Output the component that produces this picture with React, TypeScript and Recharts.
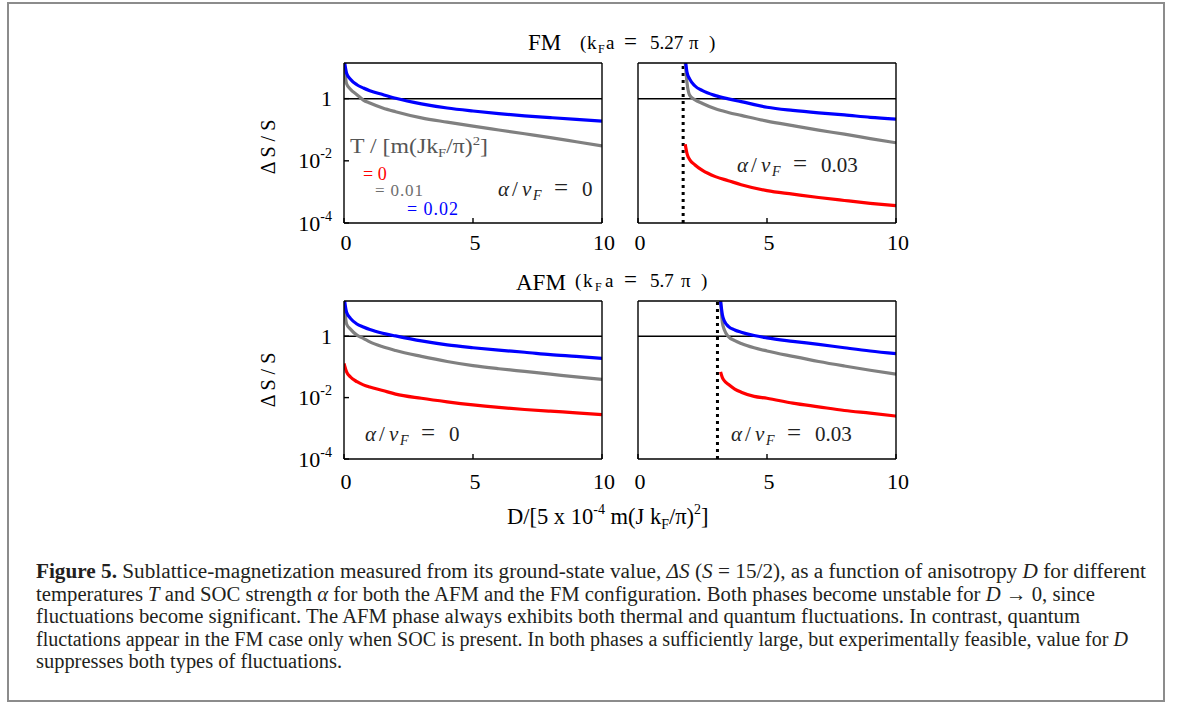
import { LineChart, Line, XAxis, YAxis, ReferenceLine } from "recharts";

// D grids (units of 5e-4 m(J kF/pi)^2) and Delta S / S
const dNoSoc = [0, 0.1, 0.25, 0.5, 0.75, 1, 1.5, 2, 3, 4, 5, 6, 7, 8, 9, 10];
const fmBlueNoSoc = [20, 6.6, 4.2, 2.8, 2.2, 1.8, 1.35, 1.03, 0.68, 0.5, 0.4, 0.33, 0.28, 0.245, 0.215, 0.19];
const fmGrayNoSoc = [15, 3.0, 2.0, 1.34, 0.9, 0.72, 0.5, 0.38, 0.24, 0.175, 0.13, 0.098, 0.074, 0.056, 0.041, 0.03];

const dFmSoc = [1.83, 1.9, 2, 2.2, 2.5, 3, 3.5, 4, 5, 6, 7, 8, 9, 10];
const fmBlueSoc = [20, 7, 4.3, 2.6, 1.8, 1.25, 0.98, 0.8, 0.53, 0.42, 0.35, 0.3, 0.25, 0.22];
const fmGraySoc = [15, 3.2, 1.3, 0.93, 0.7, 0.47, 0.36, 0.29, 0.19, 0.135, 0.097, 0.072, 0.052, 0.038];
const fmRedSoc = [0.034, 0.017, 0.011, 0.0075, 0.0049, 0.0031, 0.0023, 0.0017, 0.0011, 0.00085, 0.00066, 0.00053, 0.00043, 0.00036];

const afmBlueNoSoc = [20, 6, 3.8, 2.5, 2.0, 1.65, 1.25, 1.02, 0.7, 0.52, 0.42, 0.35, 0.3, 0.25, 0.22, 0.19];
const afmGrayNoSoc = [15, 2.5, 1.7, 1.08, 0.85, 0.65, 0.45, 0.34, 0.22, 0.15, 0.11, 0.087, 0.071, 0.058, 0.047, 0.039];
const afmRedNoSoc = [0.13, 0.069, 0.047, 0.033, 0.026, 0.022, 0.017, 0.013, 0.0095, 0.0073, 0.0058, 0.0048, 0.0041, 0.0036, 0.0032, 0.0028];

const dAfmSoc = [3.2, 3.27, 3.35, 3.5, 3.75, 4, 4.5, 5, 6, 7, 8, 9, 10];
const afmBlueSoc = [14, 5, 3.1, 2.1, 1.6, 1.35, 1.05, 0.88, 0.68, 0.54, 0.42, 0.33, 0.27];
const afmGraySoc = [14, 2.8, 1.6, 0.98, 0.72, 0.58, 0.42, 0.33, 0.22, 0.15, 0.107, 0.078, 0.058];
const afmRedSoc = [0.069, 0.045, 0.035, 0.027, 0.019, 0.015, 0.011, 0.0095, 0.0066, 0.005, 0.0038, 0.0031, 0.0025];

const criticalD = { fm: 1.75, afm: 3.08 };
const xTicks = [0, 5, 10];
const yTicks = [1e-4, 1e-2, 1];
const tempLabels = ["= 0", "= 0.01", "= 0.02"];
const socLabels = ["0", "0.03"];

const SERIF = "'Liberation Serif', 'Times New Roman', serif";
const BLUE = "#0000ff";
const GRAY = "#808080";
const RED = "#ff0000";

const toRows = (d: number[], blue: number[], gray: number[], red?: number[]) =>
  d.map((D, i) => ({ D, blue: blue[i], gray: gray[i], red: red ? red[i] : undefined }));

const PLOT_W = 258;
// margins + axis sizes around the plot box
const ML = 10, YW = 50, MT = 9, MR = 19, XH = 40, MB = 5;
const OFF_L = ML + YW;
const OFF_T = MT + 1;

const XTick = (p: any) => (
  <text x={p.x + 2} y={p.y} textAnchor="middle" fontFamily={SERIF} fontSize={22} fill="#000">
    {p.payload.value}
  </text>
);

const YTick = (p: any) => {
  const exp = Math.round(Math.log10(p.payload.value));
  return (
    <text x={p.x} y={p.y + 7.5} textAnchor="end" fontFamily={SERIF} fontSize={22} fill="#000">
      {exp === 0 ? "1" : (
        <>
          10<tspan fontSize={14} dy={-10}>{exp}</tspan>
        </>
      )}
    </text>
  );
};

type PanelProps = {
  rows: any[];
  left: number;
  top: number;
  height: number;
  showY: boolean;
  vline?: number;
  labelGap: number;
  hasRed: boolean;
};

const Panel = ({ rows, left, top, height, showY, vline, labelGap, hasRed }: PanelProps) => {
  const axisStyle = { stroke: "#000", strokeWidth: 1.4 };
  return (
    <div style={{ position: "absolute", left: left - OFF_L, top: top - OFF_T }}>
      <LineChart
        width={PLOT_W + OFF_L + MR + 1}
        height={height + OFF_T + XH + MB}
        data={rows}
        margin={{ top: MT, right: MR, bottom: MB, left: ML }}
      >
        <XAxis
          dataKey="D"
          type="number"
          domain={[0, 10]}
          ticks={xTicks}
          allowDataOverflow
          height={XH}
          axisLine={axisStyle}
          tickLine={axisStyle}
          tickSize={-5}
          tickMargin={5 + labelGap}
          tick={<XTick />}
        />
        <XAxis
          xAxisId="top"
          orientation="top"
          type="number"
          domain={[0, 10]}
          ticks={xTicks}
          allowDataOverflow
          height={1}
          axisLine={axisStyle}
          tickLine={axisStyle}
          tickSize={-5}
          tick={false}
        />
        <YAxis
          scale="log"
          type="number"
          domain={[1e-4, 14]}
          ticks={yTicks}
          allowDataOverflow
          width={YW}
          axisLine={axisStyle}
          tickLine={axisStyle}
          tickSize={-5}
          tickMargin={17}
          tick={showY ? <YTick /> : false}
        />
        <YAxis
          yAxisId="right"
          orientation="right"
          scale="log"
          type="number"
          domain={[1e-4, 14]}
          ticks={yTicks}
          allowDataOverflow
          width={1}
          axisLine={axisStyle}
          tickLine={axisStyle}
          tickSize={-5}
          tick={false}
        />
        <ReferenceLine y={1} stroke="#000" strokeWidth={1.5} />
        {vline !== undefined && (
          <ReferenceLine x={vline} stroke="#000" strokeWidth={3} strokeDasharray="3 4" />
        )}
        <Line type="monotone" dataKey="gray" stroke={GRAY} strokeWidth={3.2} dot={false} isAnimationActive={false} />
        <Line type="monotone" dataKey="blue" stroke={BLUE} strokeWidth={3.2} dot={false} isAnimationActive={false} />
        {hasRed && (
          <Line type="monotone" dataKey="red" stroke={RED} strokeWidth={3.2} dot={false} isAnimationActive={false} />
        )}
      </LineChart>
    </div>
  );
};

const AlphaLabel = ({ x, y, value }: { x: number; y: number; value: string }) => (
  <text y={y} fontFamily={SERIF} fontSize={21} fill="#222">
    <tspan x={x} fontStyle="italic">α</tspan>
    <tspan x={x + 14}>/</tspan>
    <tspan x={x + 24} fontStyle="italic">v</tspan>
    <tspan x={x + 35} dy={4} fontStyle="italic" fontSize={14}>F</tspan>
    <tspan x={x + 56} dy={-4} fontSize={25}>=</tspan>
    <tspan x={x + 84}>{value}</tspan>
  </text>
);

const captionLines: { t: string; s?: "b" | "i" }[][] = [
  [
    { t: "Figure 5.", s: "b" },
    { t: " Sublattice-magnetization measured from its ground-state value, " },
    { t: "ΔS", s: "i" },
    { t: " (" },
    { t: "S", s: "i" },
    { t: " = 15/2), as a function of anisotropy " },
    { t: "D", s: "i" },
    { t: " for different" },
  ],
  [
    { t: "temperatures " },
    { t: "T", s: "i" },
    { t: " and SOC strength " },
    { t: "α", s: "i" },
    { t: " for both the AFM and the FM configuration. Both phases become unstable for " },
    { t: "D", s: "i" },
    { t: " → 0, since" },
  ],
  [{ t: "fluctuations become significant. The AFM phase always exhibits both thermal and quantum fluctuations. In contrast, quantum" }],
  [
    { t: "fluctations appear in the FM case only when SOC is present. In both phases a sufficiently large, but experimentally feasible, value for " },
    { t: "D", s: "i" },
  ],
  [{ t: "suppresses both types of fluctuations." }],
];
const captionWidths = [1110, 1059, 1044, 1092, 306];

const Overlay = () => (
  <svg width={1182} height={704} style={{ position: "absolute", left: 0, top: 0, pointerEvents: "none" }}>
    <rect x={8} y={3} width={1156} height={698} fill="none" stroke="#8c8c8c" strokeWidth={2} />

    {/* titles */}
    <g fontFamily={SERIF} fill="#000">
      <text x={528} y={50} fontSize={23}>FM</text>
      <text y={49} fontSize={19}>
        <tspan x={580}>(</tspan>
        <tspan x={587}>k</tspan>
        <tspan x={598} dy={4} fontSize={12}>F</tspan>
        <tspan x={606} dy={-4}>a</tspan>
        <tspan x={624} fontSize={23}>=</tspan>
        <tspan x={650}>5.27</tspan>
        <tspan x={689}>π</tspan>
        <tspan x={709}>)</tspan>
      </text>
      <text x={516} y={290} fontSize={23}>AFM</text>
      <text y={287} fontSize={19}>
        <tspan x={575}>(</tspan>
        <tspan x={583}>k</tspan>
        <tspan x={595} dy={4} fontSize={12}>F</tspan>
        <tspan x={605} dy={-4}>a</tspan>
        <tspan x={624} fontSize={23}>=</tspan>
        <tspan x={650}>5.7</tspan>
        <tspan x={681}>π</tspan>
        <tspan x={701}>)</tspan>
      </text>

      {/* axis labels */}
      <text transform="translate(275,147) rotate(-90)" textAnchor="middle" fontSize={20}>Δ S / S</text>
      <text transform="translate(275,380) rotate(-90)" textAnchor="middle" fontSize={20}>Δ S / S</text>
      <text x={507} y={524} fontSize={22.5}>
        D/[5 x 10<tspan fontSize={14} dy={-10}>-4</tspan>
        <tspan dy={10}> m(J k</tspan>
        <tspan fontSize={14} dy={5}>F</tspan>
        <tspan dy={-5}>/π)</tspan>
        <tspan fontSize={14} dy={-10}>2</tspan>
        <tspan dy={10}>]</tspan>
      </text>
    </g>

    {/* legend in top-left panel */}
    <g fontFamily={SERIF}>
      <text x={350} y={153} fontSize={21} fill="#555" textLength={138} lengthAdjust="spacingAndGlyphs">
        T / [m(Jk<tspan fontSize={13} dy={4}>F</tspan>
        <tspan dy={-4}>/π)</tspan>
        <tspan fontSize={13} dy={-8}>2</tspan>
        <tspan dy={8}>]</tspan>
      </text>
      <text x={363} y={179.5} fontSize={18} fill={RED}>{tempLabels[0]}</text>
      <text x={375} y={195.5} fontSize={17} fill="#6e6e6e" textLength={48} lengthAdjust="spacing">{tempLabels[1]}</text>
      <text x={407} y={215} fontSize={18} fill={BLUE} textLength={51} lengthAdjust="spacing">{tempLabels[2]}</text>
    </g>

    <AlphaLabel x={498} y={196} value={socLabels[0]} />
    <AlphaLabel x={737} y={171.5} value={socLabels[1]} />
    <AlphaLabel x={365} y={441} value={socLabels[0]} />
    <AlphaLabel x={731} y={441} value={socLabels[1]} />

    {/* caption */}
    <g fontFamily={SERIF} fontSize={20} fill="#231f20">
      {captionLines.map((segs, i) => (
        <text
          key={i}
          x={36}
          y={578 + i * 22.6}
          textLength={captionWidths[i]}
          lengthAdjust="spacingAndGlyphs"
        >
          {segs.map((s, j) => (
            <tspan
              key={j}
              fontWeight={s.s === "b" ? "bold" : "normal"}
              fontStyle={s.s === "i" ? "italic" : "normal"}
            >
              {s.t}
            </tspan>
          ))}
        </text>
      ))}
    </g>
  </svg>
);

export default function App() {
  return (
    <div style={{ position: "absolute", left: 0, top: 0, width: 1182, height: 704, background: "#fff" }}>
      <Panel rows={toRows(dNoSoc, fmBlueNoSoc, fmGrayNoSoc)} left={344} top={63} height={160} showY labelGap={26.5} hasRed={false} />
      <Panel rows={toRows(dFmSoc, fmBlueSoc, fmGraySoc, fmRedSoc)} left={638} top={63} height={160} showY={false} vline={criticalD.fm} labelGap={26.5} hasRed />
      <Panel rows={toRows(dNoSoc, afmBlueNoSoc, afmGrayNoSoc, afmRedNoSoc)} left={344} top={301} height={158} showY labelGap={29.5} hasRed />
      <Panel rows={toRows(dAfmSoc, afmBlueSoc, afmGraySoc, afmRedSoc)} left={638} top={301} height={158} showY={false} vline={criticalD.afm} labelGap={29.5} hasRed />
      <Overlay />
    </div>
  );
}
